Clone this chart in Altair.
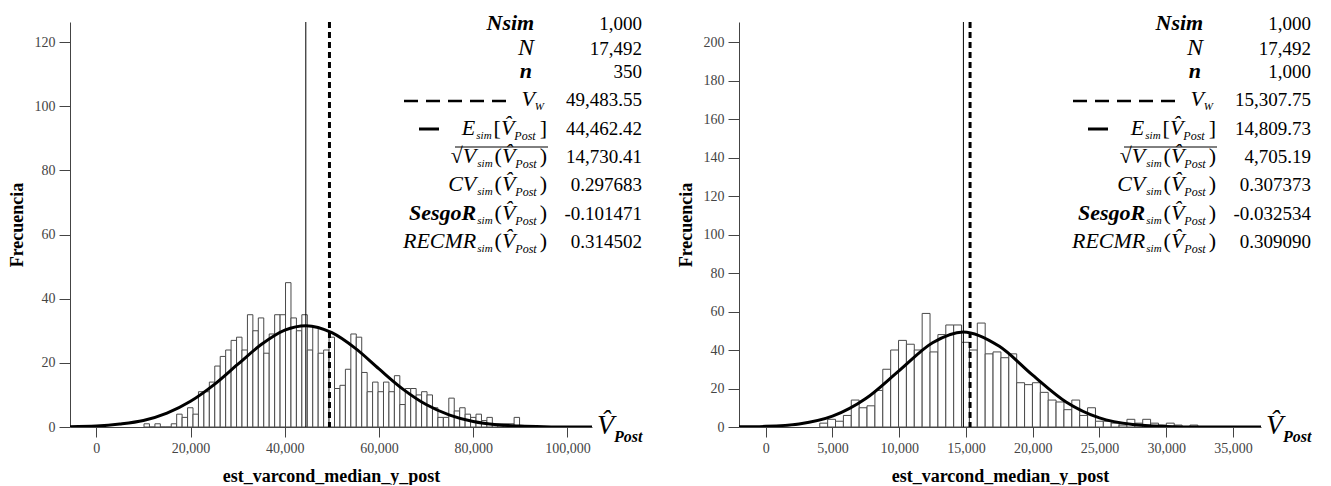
import altair as alt
import pandas as pd

# ---------------- data ----------------
left_counts = [1, 0, 1, 0, 0, 1, 4, 3, 6, 4,
               11, 11, 14, 19, 22, 24, 27, 28, 24, 35,
               30, 34, 23, 29, 35, 35, 45, 34, 30, 35,
               24, 31, 23, 24, 28, 12, 13, 18, 29, 28,
               17, 11, 14, 11, 14, 11, 16, 7, 12, 12,
               10, 11, 10, 6, 3, 3, 9, 5, 6, 4,
               3, 4, 2, 3, 1, 1, 1, 1, 3]
left_bin_start = 10130
left_bin_width = 1155

right_counts = [2, 4, 3, 6, 14, 10, 11, 19, 30, 40,
                45, 43, 40, 59, 39, 48, 53, 53, 44, 40,
                54, 38, 39, 36, 38, 23, 22, 23, 18, 14,
                13, 9, 14, 6, 10, 3, 3, 2, 1, 4,
                2, 4, 2, 1, 2, 1, 0, 1]
right_bin_start = 4050
right_bin_width = 590

left_curve_x = [-5580, 0, 5000, 10000, 15000, 20000, 25000, 30000, 35000, 40000, 44500,
                50000, 55000, 60000, 65000, 70000, 75000, 80000, 85000, 90000, 95000, 100000, 105200]
left_curve_y = [0.1, 0.3, 0.9, 2.0, 4.3, 8.0, 13.2, 19.5, 25.7, 30.2, 31.6,
                29.4, 24.5, 18.1, 11.9, 7.0, 3.7, 1.7, 0.7, 0.3, 0.1, 0.0, 0.0]
right_curve_x = [-2000, 0, 2500, 5000, 7500, 10000, 12500, 14800, 17500, 20000,
                 22500, 25000, 27500, 30000, 32500, 37100]
right_curve_y = [0.1, 0.35, 1.6, 5.6, 14.8, 29.3, 43.8, 49.4, 41.9, 26.9,
                 13.0, 4.7, 1.3, 0.3, 0.0, 0.0]

left_mean, left_vw = 44462.42, 49483.55
right_mean, right_vw = 14809.73, 15307.75

left_values = ["1,000", "17,492", "350", "49,483.55", "44,462.42", "14,730.41",
               "0.297683", "-0.101471", "0.314502"]
right_values = ["1,000", "17,492", "1,000", "15,307.75", "14,809.73", "4,705.19",
                "0.307373", "-0.032534", "0.309090"]

left_xticks = [0, 20000, 40000, 60000, 80000, 100000]
left_yticks = [0, 20, 40, 60, 80, 100, 120]
right_xticks = [0, 5000, 10000, 15000, 20000, 25000, 30000, 35000]
right_yticks = [0, 20, 40, 60, 80, 100, 120, 140, 160, 180, 200]

left_xdom = [-5580, 105200]
left_ydom = [0, 126.25]
right_xdom = [-2000, 37100]
right_ydom = [0, 210.4]

# ---------------- layout helpers ----------------
FONT = "Liberation Serif, Times New Roman, Times, serif"
W, H = 522, 405
REG = {'(': .333, ')': .333, '[': .333, ']': .333, '\u221a': .549, ' ': .25}
ITA = {'E': .611, 'V': .611, 'C': .667, 'R': .611, 'M': .833, 'N': .667, 'W': .833,
       's': .389, 'i': .278, 'm': .722, 'P': .611, 'o': .5, 't': .278}
BI = {'N': .667, 's': .389, 'i': .278, 'm': .778, 'n': .556, 'S': .556, 'e': .444,
      'g': .5, 'o': .5, 'R': .667, 'P': .667, 't': .278}
TABLES = {'r': REG, 'i': ITA, 'bi': BI}


def seg_width(text, size, style):
    tab = TABLES[style]
    return size * sum(tab.get(ch, 0.5) for ch in text if ch != '\u0302')


def layout_right(segs, right_x, baseline):
    total = sum(seg_width(t, s, st) + g for t, s, st, dy, g in segs)
    x = right_x - total
    out = []
    for t, s, st, dy, g in segs:
        x += g
        out.append(dict(text=t, px=x, py=baseline + dy, size=s, style=st, align='left'))
        x += seg_width(t, s, st)
    return out


VH = "V\u0302"
BASE = [7.5, 33, 56, 84, 112.5, 141, 169, 197.5, 226]


def paren_post(name, style):
    return [(name, 22, style, 0, 0), ("sim", 11, 'i', 4, 1), ("(", 22, 'r', 0, 2),
            (VH, 22, 'i', 0, 0), ("Post", 12, 'i', 5, 0), (")", 22, 'r', 0, 3)]


def stats_segments(values):
    segs = []
    segs += layout_right([("Nsim", 22, 'bi', 0, 0)], 463, BASE[0])
    segs += layout_right([("N", 24, 'i', 0, 0)], 464, BASE[1])
    segs += layout_right([("n", 22, 'bi', 0, 0)], 462, BASE[2])
    segs += layout_right([("V", 22, 'i', 0, 0), ("W", 11, 'i', 4, 0)], 474, BASE[3])
    segs += layout_right([("E", 22, 'i', 0, 0), ("sim", 11, 'i', 4, 1), ("[", 22, 'r', 0, 2),
                          (VH, 22, 'i', 0, 0), ("Post", 12, 'i', 5, 0), ("]", 22, 'r', 0, 4)],
                         477, BASE[4])
    sq = [("\u221a", 22, 'r', 0, 0)] + paren_post("V", 'i')
    segs += layout_right(sq, 477, BASE[5])
    segs += layout_right(paren_post("CV", 'i'), 477, BASE[6])
    segs += layout_right(paren_post("SesgoR", 'bi'), 477, BASE[7])
    segs += layout_right(paren_post("RECMR", 'i'), 477, BASE[8])
    for v, b in zip(values, BASE):
        segs.append(dict(text=v, px=572, py=b, size=19, style='r', align='right'))
    # axis-end label
    segs.append(dict(text=VH, px=527, py=412, size=28, style='i', align='left'))
    segs.append(dict(text="Post", px=544, py=420, size=16, style='bi', align='left'))
    return segs


def text_layers(segs):
    df = pd.DataFrame(segs)
    layers = []
    for (size, style, align), g in df.groupby(['size', 'style', 'align']):
        layers.append(
            alt.Chart(g[['text', 'px', 'py']].reset_index(drop=True)).mark_text(
                font=FONT, fontSize=float(size),
                fontStyle='italic' if 'i' in style else 'normal',
                fontWeight='bold' if 'b' in style else 'normal',
                align=align, baseline='alphabetic', color='black'
            ).encode(x=alt.X('px:Q', scale=None), y=alt.Y('py:Q', scale=None), text='text:N')
        )
    return layers


def panel(counts, start, width, cx, cy, mean, vw, xdom, ydom, xticks, yticks, values):
    hist = pd.DataFrame({
        'x0': [start + i * width for i in range(len(counts))],
        'x1': [start + (i + 1) * width for i in range(len(counts))],
        'count': counts,
    })
    xs = alt.Scale(domain=xdom, nice=False, zero=False)
    ys = alt.Scale(domain=ydom, nice=False, zero=False)
    xaxis = alt.Axis(values=xticks, format=',d', title='est_varcond_median_y_post')
    yaxis = alt.Axis(values=yticks, format='d', title='Frecuencia')
    bars = alt.Chart(hist).mark_rect(fill='white', stroke='#4a4a4a', strokeWidth=1).encode(
        x=alt.X('x0:Q', scale=xs, axis=xaxis), x2='x1:Q',
        y=alt.Y('count:Q', scale=ys, axis=yaxis), y2=alt.datum(0))
    curve = alt.Chart(pd.DataFrame({'x': cx, 'y': cy})).mark_line(
        color='black', strokeWidth=3, interpolate='monotone', clip=True).encode(
        x='x:Q', y='y:Q')
    solid = alt.Chart(pd.DataFrame({'v': [mean]})).mark_rule(
        color='black', strokeWidth=1).encode(x='v:Q')
    dashed = alt.Chart(pd.DataFrame({'v': [vw]})).mark_rule(
        color='black', strokeWidth=3, strokeDash=[6, 4]).encode(x='v:Q')
    sample_dash = alt.Chart(pd.DataFrame({'x': [334], 'x2': [436], 'y': [79]})).mark_rule(
        color='black', strokeWidth=2.5, strokeDash=[14, 8]).encode(
        x=alt.X('x:Q', scale=None), x2='x2:Q', y=alt.Y('y:Q', scale=None))
    sample_solid = alt.Chart(pd.DataFrame({'x': [349], 'x2': [369], 'y': [107]})).mark_rule(
        color='black', strokeWidth=3).encode(
        x=alt.X('x:Q', scale=None), x2='x2:Q', y=alt.Y('y:Q', scale=None))
    overline = alt.Chart(pd.DataFrame({'x': [385], 'x2': [478], 'y': [125]})).mark_rule(
        color='black', strokeWidth=1).encode(
        x=alt.X('x:Q', scale=None), x2='x2:Q', y=alt.Y('y:Q', scale=None))
    layers = [bars, curve, solid, dashed, sample_dash, sample_solid, overline]
    layers += text_layers(stats_segments(values))
    return alt.layer(*layers).properties(width=W, height=H)


left = panel(left_counts, left_bin_start, left_bin_width, left_curve_x, left_curve_y,
             left_mean, left_vw, left_xdom, left_ydom, left_xticks, left_yticks, left_values)
right = panel(right_counts, right_bin_start, right_bin_width, right_curve_x, right_curve_y,
              right_mean, right_vw, right_xdom, right_ydom, right_xticks, right_yticks, right_values)

chart = alt.hconcat(left, right, spacing=147, bounds='flush').properties(
    padding={'left': 8, 'top': 11, 'right': 0, 'bottom': 0},
    background='white'
).configure_view(stroke=None).configure_axis(
    grid=False,
    labelFont=FONT, labelFontSize=14, labelColor='#444',
    tickColor='#444', domainColor='#444', tickSize=10,
    labelPadding=4,
    titleFont=FONT, titleFontWeight='bold', titleFontSize=18, titleColor='black',
    titlePadding=8,
).configure_axisX(titlePadding=12).configure_axisY(tickSize=11)

chart.save("out.html", embed_options={"renderer": "svg", "actions": False})
